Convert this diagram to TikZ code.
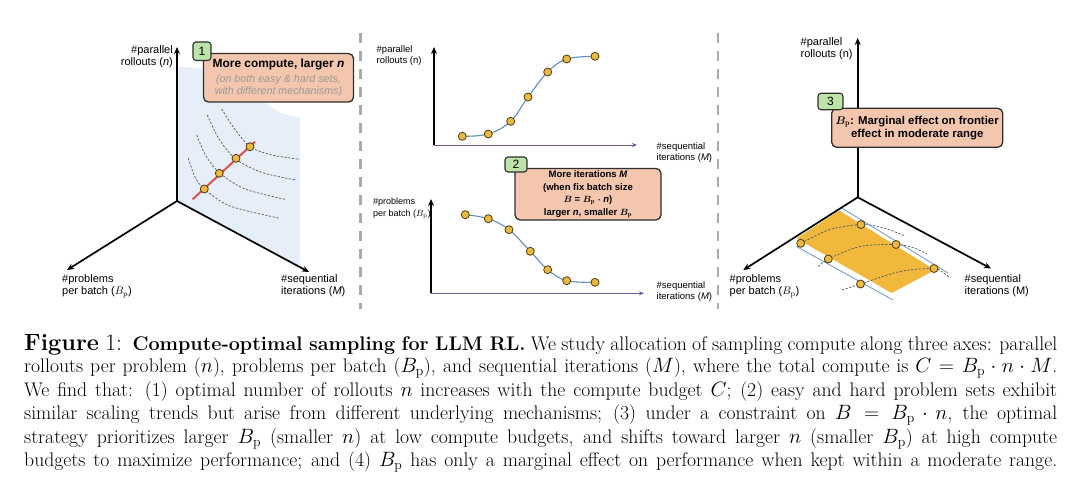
\documentclass[tikz,border=0pt]{standalone}
\usepackage{fontspec}
\setsansfont{Liberation Sans}
\usetikzlibrary{arrows.meta}
\definecolor{planeblue}{HTML}{E6EEF9}
\definecolor{boxfill}{HTML}{F3C6AD}
\definecolor{greenfill}{HTML}{BCE3A8}
\definecolor{dotfill}{HTML}{EDB93F}
\definecolor{dotline}{HTML}{4D3B12}
\definecolor{redln}{HTML}{D9534A}
\definecolor{curveblue}{HTML}{5E8FC0}
\definecolor{yellowfill}{HTML}{F2B83B}
\definecolor{thinblue}{HTML}{6F95C8}
\definecolor{arcgray}{HTML}{4A5A6A}
\definecolor{sepgray}{HTML}{ABABAB}
\definecolor{textgray}{HTML}{9A9A9A}
\definecolor{edge}{HTML}{2E2E2E}
\newcommand{\graytxt}[1]{{\sffamily\itshape\color{textgray}\fontsize{10.7}{11.5}\selectfont #1}}
\begin{document}
\begin{tikzpicture}[x=1pt,y=-1pt,
  axis/.style={line width=1.7pt,black,-{Stealth[length=7pt,width=6pt]}},
  thinaxis/.style={line width=0.9pt,draw=gray!75!blue,-{Stealth[length=5pt,width=4pt]}},
  dot/.style={circle,minimum size=8pt,inner sep=0pt,fill=dotfill,draw=dotline,line width=0.8pt},
  arcline/.style={arcgray,line width=0.7pt,dash pattern=on 2.2pt off 1.6pt},
  curveline/.style={curveblue,line width=1.1pt},
  sepline/.style={sepgray,line width=2.7pt,dash pattern=on 10pt off 8pt},
  axlabel/.style={inner sep=0pt,align=left,font=\sffamily\fontsize{11}{12.5}\selectfont},
  midlabel/.style={inner sep=0pt,align=left,font=\sffamily\fontsize{9.5}{11.5}\selectfont},
  infobox/.style={rounded corners=5pt,fill=boxfill,draw=edge,line width=1.3pt,inner sep=0pt,align=center},
  numbox/.style={rounded corners=3pt,fill=greenfill,draw=edge,line width=1.1pt,inner sep=0pt,font=\sffamily\fontsize{12}{12}\selectfont},
  capline/.style={anchor=base west,inner sep=0pt,font=\fontsize{19.7}{23}\selectfont}
]
\useasboundingbox (0,0) rectangle (1080,490);
\fill[white] (0,0) rectangle (1080,490);

% ---------------- separators
\coordinate (s1a) at (360.7,33); \coordinate (s1b) at (360.7,309);
\coordinate (s2a) at (718,33);   \coordinate (s2b) at (718,309);
\draw[sepline] (s1a) -- (s1b);
\draw[sepline] (s2a) -- (s2b);

% ---------------- left panel
\coordinate (LO) at (177,201);
\coordinate (LN) at (177,47);
\coordinate (LB) at (67,270);
\coordinate (LM) at (309,272);
\fill[planeblue] (178,67) .. controls (215,66) and (240,80) .. (262,100)
   .. controls (275,112) and (288,117) .. (300,117) -- (300,267) -- (LO) -- cycle;

\draw[arcline] plot[smooth] coordinates {(188.3,158.3) (195,177) (204.3,189) (230,206) (280,218.3)};
\draw[arcline] plot[smooth] coordinates {(196.7,135) (206,156) (219.3,172.7) (245,189) (285,199.3)};
\draw[arcline] plot[smooth] coordinates {(207.3,115) (219,139) (235.7,159) (262,172.5) (296,180)};
\draw[arcline] plot[smooth] coordinates {(221.7,109) (234,128) (250,146.7) (272,155) (300,159.3)};

\coordinate (r0) at (192.7,199.3);
\coordinate (r1) at (255,141.7);
\draw[redln,line width=2pt] (r0) -- (r1);
\node[dot] (ld1) at (204.3,189) {};
\node[dot] (ld2) at (219.3,173.3) {};
\node[dot] (ld3) at (236,158.3) {};
\node[dot] (ld4) at (250,146.7) {};

\draw[axis] (LO) -- (LN);
\draw[axis] (LO) -- (LB);
\draw[axis] (LO) -- (LM);

\node[axlabel,align=right,anchor=north east] (lln) at (173,45) {\#parallel\\rollouts (\textit{n})};
\node[axlabel,anchor=north west] (llb) at (62,274) {\#problems\\per batch ($B_{\mathrm{p}}$)};
\node[axlabel,anchor=north west] (llm) at (281,274) {\#sequential\\iterations (\textit{M})};

\node[infobox,minimum width=150pt,minimum height=48.5pt] (box1) at (278.5,77.8)
  {\sffamily\bfseries\fontsize{11.9}{12}\selectfont More compute, larger \textit{n}\\[3pt]
   \graytxt{(on both easy \& hard sets,}\\ \graytxt{with different mechanisms)}};
\node[numbox,minimum width=18pt,minimum height=18.5pt] (g1) at (202,51.2) {1};

% ---------------- middle top
\coordinate (MO1) at (434,145);
\coordinate (MN1) at (434,47);
\coordinate (MX1) at (637,145);
\draw[thinaxis] (MO1) -- (MX1);
\draw[axis] (MO1) -- (MN1);
\coordinate (p1) at (462.3,136.3);
\coordinate (p2) at (488.3,134);
\coordinate (p3) at (510.7,121.3);
\coordinate (p4) at (528,97);
\coordinate (p5) at (547.7,72);
\coordinate (p6) at (566.7,59);
\coordinate (p7) at (595,56.3);
\draw[curveline] plot[smooth,tension=0.6] coordinates {(p1) (p2) (p3) (p4) (p5) (p6) (p7)};
\foreach \p in {p1,p2,p3,p4,p5,p6,p7} {\node[dot] (n\p) at (\p) {};}
\node[midlabel,anchor=north west] (mtn) at (376.5,45) {\#parallel\\rollouts (n)};
\node[midlabel,anchor=north west] (mtm) at (656.5,142) {\#sequential\\iterations (\textit{M})};

% ---------------- middle bottom
\coordinate (MO2) at (431,293.3);
\coordinate (MN2) at (431,199);
\coordinate (MX2) at (644,293.3);
\draw[thinaxis] (MO2) -- (MX2);
\draw[axis] (MO2) -- (MN2);
\coordinate (q1) at (465.3,214.7);
\coordinate (q2) at (488.3,218.7);
\coordinate (q3) at (509,229.7);
\coordinate (q4) at (530.3,251.3);
\coordinate (q5) at (547.7,269.7);
\coordinate (q6) at (566.7,280.7);
\coordinate (q7) at (595,282.3);
\draw[curveline] plot[smooth,tension=0.6] coordinates {(q1) (q2) (q3) (q4) (q5) (q6) (q7)};
\foreach \q in {q1,q2,q3,q4,q5,q6,q7} {\node[dot] (n\q) at (\q) {};}
\node[midlabel,anchor=north west,font=\sffamily\fontsize{9}{11.5}\selectfont] (mbb) at (373,198) {\#problems\\per batch ($B_{\mathrm{p}}$)};
\node[midlabel,anchor=north west] (mbm) at (656.5,281) {\#sequential\\iterations (\textit{M})};

\node[infobox,minimum width=146pt,minimum height=51.5pt,
  font=\sffamily\bfseries\boldmath\fontsize{9.5}{12.4}\selectfont] (box2) at (588,194.2)
  {More iterations \textit{M}\\(when fix batch size\\$B$ = $B_{\mathrm{p}}$ $\cdot$ \textit{n})\\larger \textit{n}, smaller $B_{\mathrm{p}}$};
\node[numbox,minimum width=22pt,minimum height=15pt] (g2) at (516,164.5) {2};

% ---------------- right panel
\coordinate (RO) at (857.7,197.3);
\coordinate (RN) at (857.7,38);
\coordinate (RB) at (743.3,270);
\coordinate (RM) at (991,268.5);
\coordinate (yT) at (839.3,210.5);
\coordinate (yR) at (935,270);
\coordinate (yB) at (891.7,293);
\coordinate (yL) at (796.5,238.5);
\fill[yellowfill] (yT) -- (yR) -- (yB) -- (yL) -- cycle;
\coordinate (bu0) at (841,207.5); \coordinate (bu1) at (948,273);
\coordinate (bl0) at (796.5,246.5); \coordinate (bl1) at (893,300);
\draw[thinblue,line width=0.8pt] (bu0) -- (bu1);
\draw[thinblue,line width=0.8pt] (bl0) -- (bl1);

\draw[arcline] plot[smooth] coordinates {(800.7,243.3) (830,229.5) (861,224.5) (884,228) (905,236)};
\draw[arcline] plot[smooth] coordinates {(818.3,266.7) (828.3,259) (860,246.5) (896,244.5) (914,248) (927,254)};
\draw[arcline] plot[smooth] coordinates {(842,290) (860.5,284) (900,271.5) (934,268.5) (943,272.5) (950,278)};

\draw[axis] (RO) -- (RN);
\draw[axis] (RO) -- (RB);
\draw[axis] (RO) -- (RM);

\node[dot] (rd1) at (861,224.5) {};
\node[dot] (rd2) at (896,244.5) {};
\node[dot] (rd3) at (934,268.5) {};
\node[dot] (rd4) at (800.7,243.3) {};
\node[dot] (rd5) at (828.3,259) {};
\node[dot] (rd6) at (860.5,284) {};

\node[axlabel,anchor=north west] (rln) at (800.5,37) {\#parallel\\rollouts (n)};
\node[axlabel,anchor=north west] (rlb) at (729.5,274) {\#problems\\per batch ($B_{\mathrm{p}}$)};
\node[axlabel,anchor=north west] (rlm) at (964.5,274) {\#sequential\\iterations (M)};

\node[infobox,minimum width=171pt,minimum height=39pt,
  font=\sffamily\bfseries\boldmath\fontsize{11.4}{12.8}\selectfont] (box3) at (917.2,127.8)
  {$B_{\mathrm{p}}$: Marginal effect on frontier\\effect in moderate range};
\node[numbox,minimum width=25pt,minimum height=16.5pt] (g3) at (830.5,101.5) {3};

% ---------------- caption
\node[capline] (cap1) at (24,350) {\hbox to 1033pt{{\fontsize{23.5}{24}\selectfont\textbf{Figure} 1:}\ \ \textbf{Compute-optimal sampling for LLM RL.} We study allocation of sampling compute along three axes: parallel}};
\node[capline] (cap2) at (24,372.5) {\hbox to 1033pt{rollouts per problem ($n$), problems per batch ($B_{\mathrm{p}}$), and sequential iterations ($M$), where the total compute is $C=B_{\mathrm{p}}\cdot n\cdot M$.}};
\node[capline] (cap3) at (24,396) {\hbox to 1033pt{We find that: (1) optimal number of rollouts $n$ increases with the compute budget $C$; (2) easy and hard problem sets exhibit}};
\node[capline] (cap4) at (24,419.5) {\hbox to 1033pt{similar scaling trends but arise from different underlying mechanisms; (3) under a constraint on $B=B_{\mathrm{p}}\cdot n$, the optimal}};
\node[capline] (cap5) at (24,443) {\hbox to 1033pt{strategy prioritizes larger $B_{\mathrm{p}}$ (smaller $n$) at low compute budgets, and shifts toward larger $n$ (smaller $B_{\mathrm{p}}$) at high compute}};
\node[capline] (cap6) at (24,466.5) {\hbox to 1033pt{budgets to maximize performance; and (4) $B_{\mathrm{p}}$ has only a marginal effect on performance when kept within a moderate range.}};
\end{tikzpicture}
\end{document}
